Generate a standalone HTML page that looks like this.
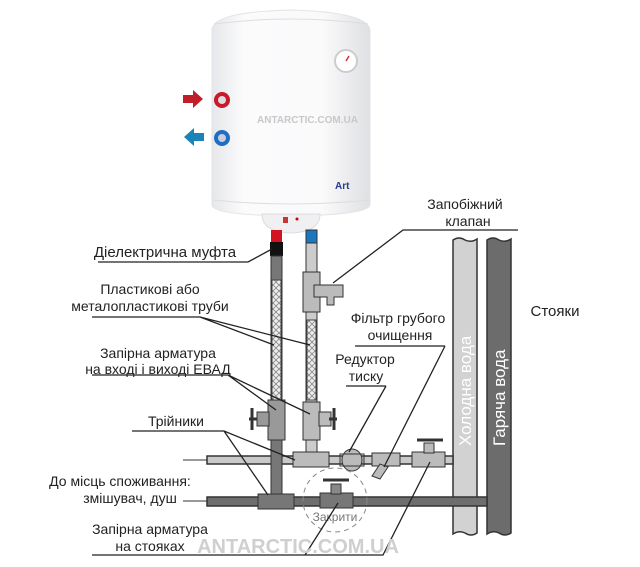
<!DOCTYPE html>
<html><head><meta charset="utf-8"><style>
html,body{margin:0;padding:0;background:#fff;}
svg{display:block;font-family:"Liberation Sans",sans-serif;}
</style></head><body>
<svg width="640" height="567" viewBox="0 0 640 567" xmlns="http://www.w3.org/2000/svg">
<defs>
<linearGradient id="body" x1="0" x2="1">
<stop offset="0" stop-color="#e6e7ea"/><stop offset="0.2" stop-color="#fbfbfc"/><stop offset="0.7" stop-color="#fafafb"/><stop offset="1" stop-color="#dfe0e3"/>
</linearGradient>
<pattern id="braid" width="6" height="6" patternUnits="userSpaceOnUse">
<rect width="6" height="6" fill="#eee"/><path d="M0 6L6 0M0 0L6 6" stroke="#888" stroke-width="0.8"/>
</pattern>
</defs>
<!-- heater -->
<path d="M212 30 Q212 12 290 10 Q368 12 370 30 L370 205 Q368 215 290 216 Q212 215 212 205Z" fill="url(#body)" stroke="#e2e3e6"/>
<path d="M214 24 Q290 14 368 24" fill="none" stroke="#ddd"/>
<path d="M213 200 Q290 208 369 200" fill="none" stroke="#ddd"/>
<path d="M262 214 L320 214 Q320 232 291 233 Q262 232 262 214Z" fill="#f0f0f2" stroke="#ddd"/>
<circle cx="346" cy="61" r="11" fill="#fff" stroke="#ccc" stroke-width="2"/>
<line x1="346" y1="61" x2="349" y2="56" stroke="#c33" stroke-width="1.5"/>
<circle cx="222" cy="100" r="8" fill="#c8182a"/><circle cx="222" cy="100" r="4" fill="#ddd"/>
<circle cx="222" cy="138" r="8" fill="#1d6fc4"/><circle cx="222" cy="138" r="4" fill="#ccd"/>
<path d="M183 95 h10 v-5 l10 9 l-10 9 v-5 h-10z" fill="#c01f2a"/>
<path d="M204 133 h-10 v-5 l-10 9 l10 9 v-5 h10z" fill="#1a84b8"/>
<text x="257" y="123" font-size="10" font-weight="bold" fill="#c8c8c8">ANTARCTIC.COM.UA</text>
<text x="335" y="189" font-size="10" font-weight="bold" fill="#2a3a90">Art</text>
<rect x="283" y="217" width="5" height="6" fill="#c33"/><circle cx="297" cy="219" r="1.5" fill="#c00"/>
<!-- risers -->
<path d="M453 240 Q459 236 465 240 Q471 243 477 239 L477 533 Q471 537 465 533 Q459 530 453 534Z" fill="#d2d2d2" stroke="#333" stroke-width="1.5"/>
<path d="M487 240 Q493 236 499 240 Q505 243 511 239 L511 533 Q505 537 499 533 Q493 530 487 534Z" fill="#6c6c6c" stroke="#333" stroke-width="1.5"/>
<text transform="translate(471,446) rotate(-90)" font-size="17" fill="#fff">Холодна вода</text>
<text transform="translate(505,446) rotate(-90)" font-size="17" fill="#fff">Гаряча вода</text>
<!-- horizontal pipes -->
<rect x="207" y="456" width="246" height="8" fill="#c9c9c9" stroke="#333" stroke-width="1.5"/>
<rect x="207" y="497" width="280" height="9" fill="#6e6e6e" stroke="#333" stroke-width="1.5"/>
<line x1="183" y1="460" x2="207" y2="460" stroke="#333"/>
<line x1="183" y1="501" x2="207" y2="501" stroke="#333"/>
<!-- vertical pipes -->
<rect x="271" y="230" width="11" height="12" fill="#d01520"/>
<rect x="270" y="242" width="13" height="14" fill="#111"/>
<rect x="271" y="256" width="11" height="240" fill="#777" stroke="#333"/>
<rect x="272" y="280" width="9" height="120" fill="url(#braid)" stroke="#444"/>
<rect x="306" y="230" width="11" height="13" fill="#1a78c0" stroke="#333"/>
<rect x="306" y="243" width="11" height="213" fill="#ccc" stroke="#333"/>
<rect x="307" y="320" width="9" height="80" fill="url(#braid)" stroke="#444"/>
<!-- safety valve -->
<rect x="303" y="272" width="17" height="40" fill="#bbb" stroke="#333"/>
<path d="M314 285 h29 v12 h-9 v8 h-7 v-8 h-13z" fill="#bbb" stroke="#333"/>
<!-- valves on vertical pipes -->
<rect x="268" y="400" width="17" height="40" fill="#999" stroke="#333"/>
<rect x="257" y="412" width="12" height="14" fill="#999" stroke="#333"/>
<path d="M252 408v22M249 419h8" stroke="#333" stroke-width="3"/>
<rect x="303" y="402" width="17" height="38" fill="#bbb" stroke="#333"/>
<rect x="319" y="412" width="12" height="14" fill="#bbb" stroke="#333"/>
<path d="M334 408v22M329 419h8" stroke="#333" stroke-width="3"/>
<!-- tees -->
<rect x="293" y="452" width="36" height="15" fill="#bbb" stroke="#333"/>
<rect x="258" y="494" width="36" height="15" fill="#777" stroke="#333"/>
<!-- reducer, filter, valve on cold -->
<ellipse cx="352" cy="460" rx="10" ry="11" fill="#bbb" stroke="#333"/>
<rect x="340" y="454" width="24" height="12" fill="none" stroke="#333"/>
<rect x="372" y="453" width="28" height="13" fill="#bbb" stroke="#333"/>
<path d="M380 464 l-8 12 l8 3 l8-12z" fill="#bbb" stroke="#333"/>
<rect x="412" y="452" width="33" height="15" fill="#bbb" stroke="#333"/>
<rect x="424" y="443" width="10" height="10" fill="#bbb" stroke="#333"/>
<path d="M417 440h26" stroke="#333" stroke-width="3"/>
<!-- valve on hot -->
<rect x="320" y="493" width="33" height="15" fill="#777" stroke="#333"/>
<rect x="331" y="484" width="10" height="10" fill="#888" stroke="#333"/>
<path d="M323 480h26" stroke="#333" stroke-width="3"/>
<circle cx="335" cy="500" r="32" fill="none" stroke="#888" stroke-dasharray="5 4"/>
<text x="335" y="521" font-size="12" fill="#777" text-anchor="middle">Закрити</text>
<!-- leader lines -->
<g stroke="#222" stroke-width="1.3" fill="none">
<path d="M98 262H248L272 249"/>
<path d="M92 317H200L274 345M200 317L310 345"/>
<path d="M92 375H228L276 410M228 375L310 414"/>
<path d="M132 431H224L295 460M224 431L268 495"/>
<path d="M92 555H383L430 462M305 555L338 503"/>
<path d="M518 230H403L333 283"/>
<path d="M445 346H355M445 346L384 467"/>
<path d="M386 386H346M386 386L349 452"/>
</g>
<!-- labels -->
<g font-size="14" fill="#222" text-anchor="middle">
<text x="165" y="257" font-size="15">Діелектрична муфта</text>
<text x="150" y="294">Пластикові або</text>
<text x="150" y="311">металопластикові труби</text>
<text x="158" y="358">Запірна арматура</text>
<text x="158" y="374">на вході і виході ЕВАД</text>
<text x="176" y="426">Трійники</text>
<text x="120" y="486">До місць споживання:</text>
<text x="130" y="503">змішувач, душ</text>
<text x="150" y="534">Запірна арматура</text>
<text x="150" y="551">на стояках</text>
<text x="465" y="209">Запобіжний</text>
<text x="468" y="226">клапан</text>
<text x="398" y="323">Фільтр грубого</text>
<text x="400" y="340">очищення</text>
<text x="365" y="364">Редуктор</text>
<text x="366" y="381">тиску</text>
<text x="555" y="316" font-size="15">Стояки</text>
</g>
<text x="298" y="553" font-size="20" font-weight="bold" fill="#cfcfcf" text-anchor="middle">ANTARCTIC.COM.UA</text>
</svg>
</body></html>
